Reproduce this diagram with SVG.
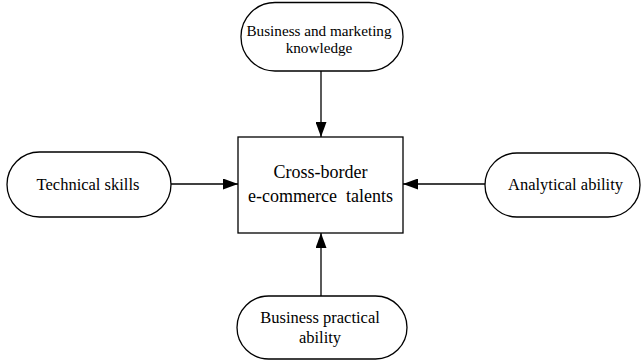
<svg xmlns="http://www.w3.org/2000/svg" width="642" height="361" viewBox="0 0 642 361">
<style>
.n{fill:#fff;stroke:#000;stroke-width:1.3}
.t{font-size:16.5px;fill:#000;text-anchor:middle}
.s{font-size:15.2px}
.c{font-size:18px;fill:#000;text-anchor:middle}
.e{stroke:#000;stroke-width:1.3;fill:none;marker-end:url(#ah)}
</style>
<defs>
<marker id="ah" viewBox="0 0 15 11" refX="15" refY="5.5" markerWidth="15" markerHeight="11" markerUnits="userSpaceOnUse" orient="auto">
<path d="M0,0 L15,5.5 L0,11 Z" fill="#000"/>
</marker>
</defs>
<rect width="642" height="361" fill="#fff"/>
<g id="connectors">
<line class="e" x1="321" y1="71" x2="321" y2="137"/>
<line class="e" x1="321" y1="296" x2="321" y2="233"/>
<line class="e" x1="171" y1="184" x2="238" y2="184"/>
<line class="e" x1="485" y1="184" x2="403" y2="184"/>
</g>
<g font-family="'Liberation Serif', 'Times New Roman', Times, serif">
<g id="center">
<rect class="n" x="238" y="137" width="165" height="96"/>
<text class="c" x="320.5" y="178">Cross-border</text>
<text class="c" x="320.5" y="202" xml:space="preserve">e-commerce  talents</text>
</g>
<g id="top">
<rect class="n" x="241" y="2.5" width="162" height="68.5" rx="34" ry="34"/>
<text class="t s" x="319" y="36">Business and marketing</text>
<text class="t s" x="319" y="53">knowledge</text>
</g>
<g id="left">
<rect class="n" x="7" y="152" width="164" height="65" rx="32.5" ry="32.5"/>
<text class="t" x="88" y="190">Technical skills</text>
</g>
<g id="right">
<rect class="n" x="485" y="153" width="155" height="64" rx="32" ry="32"/>
<text class="t" x="565.5" y="190">Analytical ability</text>
</g>
<g id="bottom">
<rect class="n" x="237" y="296" width="170" height="63" rx="31.5" ry="31.5"/>
<text class="t" x="320" y="323">Business practical</text>
<text class="t" x="320" y="343">ability</text>
</g>
</g>
</svg>
